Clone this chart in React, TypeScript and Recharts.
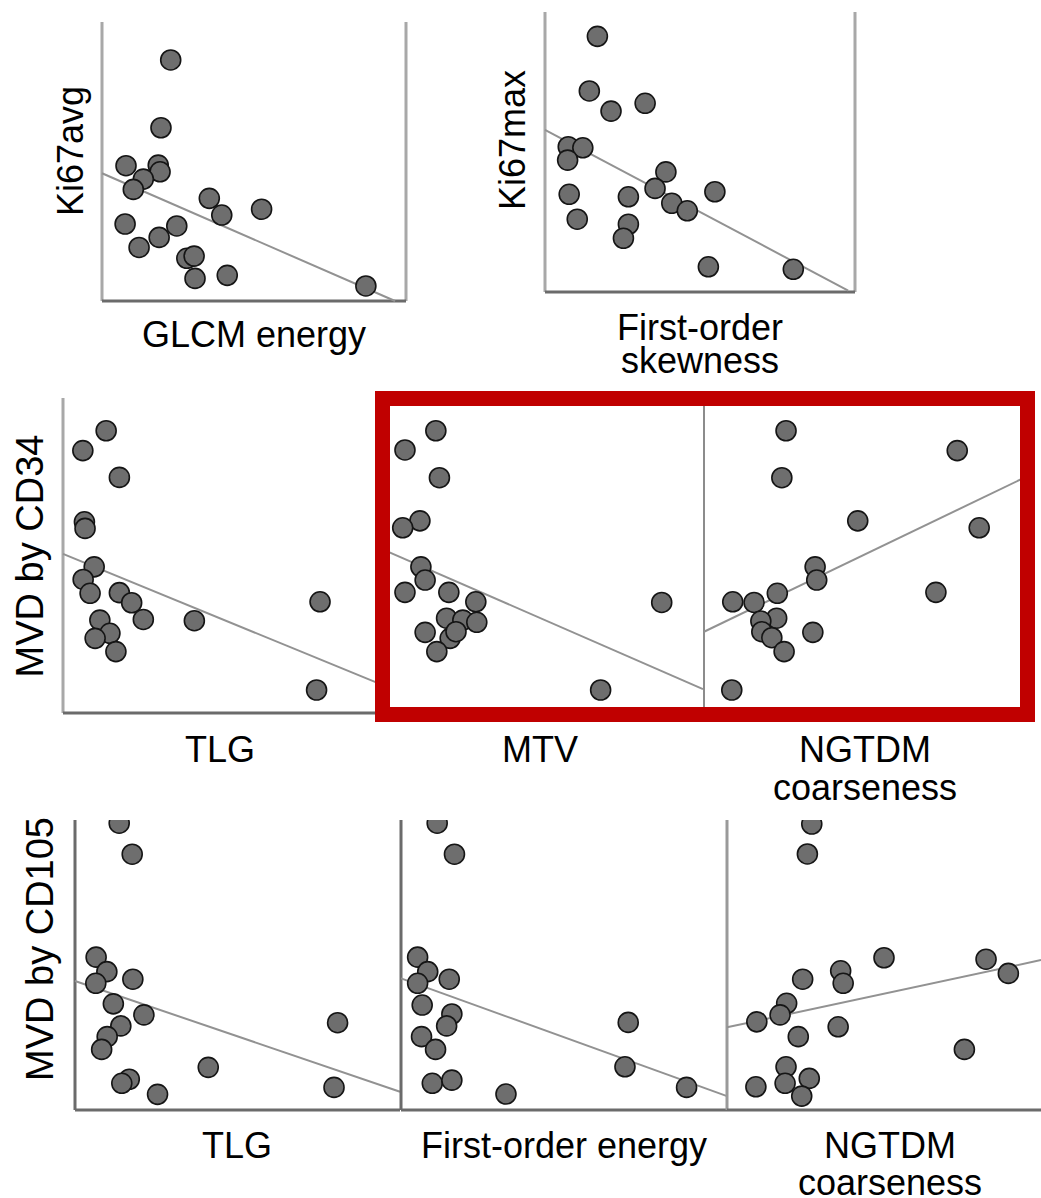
import { ReferenceLine, Scatter, ScatterChart, XAxis, YAxis } from "recharts";

type Pair = [number, number];

// values, both axes scaled 0-100 inside each panel
const KI67AVG_GLCM_ENERGY: Pair[] = [
  [22.6, 86.4], [19.4, 62.1], [7.9, 48.5], [18.5, 48.7], [19.1, 46.3],
  [13.6, 43.7], [10.3, 40.0], [35.3, 36.8], [39.4, 30.8], [52.5, 32.9],
  [7.6, 27.6], [24.6, 26.9], [18.8, 22.8], [12.2, 19.2], [27.9, 15.3],
  [30.3, 16.1], [30.6, 8.1], [41.2, 9.2], [86.8, 5.4],
];
const FIT_KI67AVG_GLCM_ENERGY: Pair[] = [[0, 45.8], [96.4, 0]];

const KI67MAX_SKEWNESS: Pair[] = [
  [16.9, 91.3], [14.3, 71.8], [21.3, 64.6], [32.3, 67.4], [7.5, 51.9],
  [12.2, 51.5], [7.3, 47.1], [39.0, 42.9], [35.5, 37.0], [54.8, 35.8],
  [7.8, 34.9], [26.9, 34.0], [40.9, 31.7], [45.9, 29.0], [10.4, 26.0],
  [26.9, 24.2], [25.3, 19.2], [52.7, 9.0], [80.1, 8.1],
];
const FIT_KI67MAX_SKEWNESS: Pair[] = [[0, 57.9], [97.8, 0.5]];

const CD34_TLG: Pair[] = [
  [13.7, 89.6], [6.3, 83.3], [17.9, 74.8], [6.8, 60.7], [7.0, 58.6],
  [9.9, 46.4], [6.4, 42.4], [8.6, 38.0], [17.9, 38.2], [21.8, 35.0],
  [25.5, 29.7], [41.7, 29.3], [81.6, 35.3], [11.7, 29.5], [14.9, 25.3],
  [10.2, 23.7], [16.8, 19.5], [80.5, 7.3],
];
const FIT_CD34_TLG: Pair[] = [[0, 50.5], [100, 9.5]];

const CD34_MTV: Pair[] = [
  [17.8, 89.6], [8.3, 83.5], [18.9, 74.7], [12.9, 61.0], [7.6, 58.8],
  [13.2, 46.4], [14.5, 42.2], [8.3, 38.3], [21.8, 38.3], [30.1, 35.3],
  [87.3, 35.1], [21.1, 30.1], [26.1, 29.5], [30.4, 28.8], [14.5, 25.6],
  [22.2, 23.7], [24.0, 25.8], [18.1, 19.5], [68.5, 7.3],
];
const FIT_CD34_MTV: Pair[] = [[0, 52.6], [100, 7.6]];

const CD34_NGTDM: Pair[] = [
  [25.4, 89.6], [78.4, 83.3], [24.1, 74.7], [47.6, 61.0], [85.2, 58.8],
  [34.4, 46.4], [34.9, 42.2], [22.7, 38.0], [71.8, 38.3], [8.9, 35.3],
  [15.5, 35.1], [22.5, 30.1], [17.6, 29.2], [17.9, 25.8], [33.7, 25.6],
  [21.0, 23.9], [24.8, 19.5], [8.6, 7.3],
];
const FIT_CD34_NGTDM: Pair[] = [[0, 25.8], [100, 75.1]];

const CD105_TLG: Pair[] = [
  [13.6, 98.9], [17.6, 88.2], [6.5, 52.7], [9.8, 47.7], [17.8, 45.1],
  [6.4, 43.7], [11.8, 36.6], [21.2, 32.8], [80.8, 30.1], [14.1, 29.0],
  [9.9, 25.3], [8.2, 20.9], [41.0, 14.7], [16.7, 10.6], [14.4, 9.2],
  [25.4, 5.4], [79.7, 7.8],
];
const FIT_CD105_TLG: Pair[] = [[0, 44.5], [100, 6.3]];

const CD105_ENERGY: Pair[] = [
  [11.1, 98.9], [16.4, 88.2], [5.1, 52.7], [8.2, 47.7], [14.8, 45.1],
  [5.1, 43.7], [6.5, 36.2], [15.6, 33.1], [14.0, 29.0], [69.7, 30.2],
  [6.3, 25.3], [10.6, 20.9], [68.7, 14.9], [9.6, 9.2], [15.6, 10.3],
  [32.2, 5.5], [87.6, 7.8],
];
const FIT_CD105_ENERGY: Pair[] = [[0, 45.4], [100, 4.8]];

const CD105_NGTDM: Pair[] = [
  [27.0, 98.6], [25.6, 88.3], [50.0, 52.5], [82.5, 52.0], [89.6, 47.1],
  [24.1, 45.1], [36.2, 48.0], [37.0, 43.7], [19.0, 36.8], [16.9, 32.8],
  [9.5, 30.4], [35.4, 28.7], [22.7, 25.3], [75.6, 20.9], [18.8, 14.9],
  [18.5, 9.2], [26.2, 10.9], [9.2, 8.0], [23.8, 4.8],
];
const FIT_CD105_NGTDM: Pair[] = [[0, 28.5], [100, 51.7]];

const LIGHT = { stroke: "#a8a8a8", width: 3 };
const MID = { stroke: "#8c8c8c", width: 2 };
const DARK = { stroke: "#6b6b6b", width: 3 };

type AxisStyle = { stroke: string; width: number };

type PanelSpec = {
  key: string;
  left: number;
  top: number;
  width: number;
  height: number;
  points: Pair[];
  fit: Pair[];
  leftAxis?: AxisStyle;
  bottomAxis?: AxisStyle;
  rightAxis?: AxisStyle;
  clipTop?: boolean;
  clipRight?: boolean;
};

const PANELS: PanelSpec[] = [
  { key: "a", left: 102, top: 22, width: 304, height: 279, points: KI67AVG_GLCM_ENERGY, fit: FIT_KI67AVG_GLCM_ENERGY, leftAxis: LIGHT, bottomAxis: DARK, rightAxis: LIGHT },
  { key: "b", left: 545, top: 12, width: 310, height: 280, points: KI67MAX_SKEWNESS, fit: FIT_KI67MAX_SKEWNESS, leftAxis: LIGHT, bottomAxis: DARK, rightAxis: LIGHT },
  { key: "c", left: 63, top: 398, width: 315, height: 315, points: CD34_TLG, fit: FIT_CD34_TLG, leftAxis: LIGHT, bottomAxis: DARK },
  { key: "mtv", left: 378, top: 398, width: 325, height: 315, points: CD34_MTV, fit: FIT_CD34_MTV, bottomAxis: DARK },
  { key: "ngtdm34", left: 704, top: 398, width: 323, height: 315, points: CD34_NGTDM, fit: FIT_CD34_NGTDM, leftAxis: MID, bottomAxis: DARK },
  { key: "d1", left: 75, top: 820, width: 325, height: 290, points: CD105_TLG, fit: FIT_CD105_TLG, leftAxis: DARK, bottomAxis: DARK, clipTop: true },
  { key: "d2", left: 401, top: 820, width: 326, height: 290, points: CD105_ENERGY, fit: FIT_CD105_ENERGY, leftAxis: DARK, bottomAxis: DARK, clipTop: true },
  { key: "d3", left: 727, top: 820, width: 314, height: 290, points: CD105_NGTDM, fit: FIT_CD105_NGTDM, leftAxis: { stroke: "#9a9a9a", width: 3 }, bottomAxis: DARK, clipTop: true, clipRight: true },
];

const toXY = (pairs: Pair[]) => pairs.map(([x, y]) => ({ x, y }));

function Dot(props: { cx?: number; cy?: number }) {
  const { cx = 0, cy = 0 } = props;
  return <circle cx={cx} cy={cy} r={10} fill="#6e6e6e" stroke="#151515" strokeWidth={1.6} />;
}

function Panel({ spec }: { spec: PanelSpec }) {
  const margin = {
    top: spec.clipTop ? 0 : 4,
    right: spec.clipRight ? 0 : 4,
    bottom: 4,
    left: 4,
  };
  return (
    <div style={{ position: "absolute", left: spec.left - margin.left, top: spec.top - margin.top }}>
      <ScatterChart
        width={spec.width + margin.left + margin.right}
        height={spec.height + margin.top + margin.bottom}
        margin={margin}
      >
        <XAxis type="number" dataKey="x" domain={[0, 100]} hide />
        <YAxis type="number" dataKey="y" domain={[0, 100]} hide />
        {spec.leftAxis && (
          <ReferenceLine x={0} stroke={spec.leftAxis.stroke} strokeWidth={spec.leftAxis.width} />
        )}
        {spec.rightAxis && (
          <ReferenceLine x={100} stroke={spec.rightAxis.stroke} strokeWidth={spec.rightAxis.width} />
        )}
        {spec.bottomAxis && (
          <ReferenceLine y={0} stroke={spec.bottomAxis.stroke} strokeWidth={spec.bottomAxis.width} />
        )}
        <Scatter
          data={toXY(spec.fit)}
          line={{ stroke: "#929292", strokeWidth: 2 }}
          shape={() => <g />}
          isAnimationActive={false}
        />
        <Scatter data={toXY(spec.points)} shape={<Dot />} isAnimationActive={false} />
      </ScatterChart>
    </div>
  );
}

const FONT = "'Liberation Sans', Arial, sans-serif";

export default function App() {
  return (
    <div
      style={{
        position: "absolute",
        left: 0,
        top: 0,
        width: 1041,
        height: 1198,
        overflow: "hidden",
        background: "#ffffff",
      }}
    >
      {PANELS.map((spec) => (
        <Panel key={spec.key} spec={spec} />
      ))}
      <svg
        width={1041}
        height={1198}
        style={{ position: "absolute", left: 0, top: 0, pointerEvents: "none" }}
        fontFamily={FONT}
        fill="#000"
      >
        <g fontSize={36} textAnchor="middle">
          <text x={254} y={347}>GLCM energy</text>
          <text x={700} y={340}>First-order</text>
          <text x={700} y={373}>skewness</text>
          <text x={220} y={762}>TLG</text>
          <text x={540} y={762}>MTV</text>
          <text x={865} y={762}>NGTDM</text>
          <text x={865} y={800}>coarseness</text>
          <text x={237} y={1158}>TLG</text>
          <text x={564} y={1158}>First-order energy</text>
          <text x={890} y={1158}>NGTDM</text>
          <text x={890} y={1195}>coarseness</text>
          <text x={83} y={151} transform="rotate(-90 83 151)">Ki67avg</text>
          <text x={525} y={140} transform="rotate(-90 525 140)">Ki67max</text>
          <text x={43} y={556} fontSize={38} transform="rotate(-90 43 556)">MVD by CD34</text>
          <text x={53} y={949} fontSize={38} transform="rotate(-90 53 949)">MVD by CD105</text>
        </g>
      </svg>
      <div
        style={{
          position: "absolute",
          left: 375,
          top: 391,
          width: 660,
          height: 331,
          border: "15px solid #c00000",
          boxSizing: "border-box",
        }}
      />
    </div>
  );
}
